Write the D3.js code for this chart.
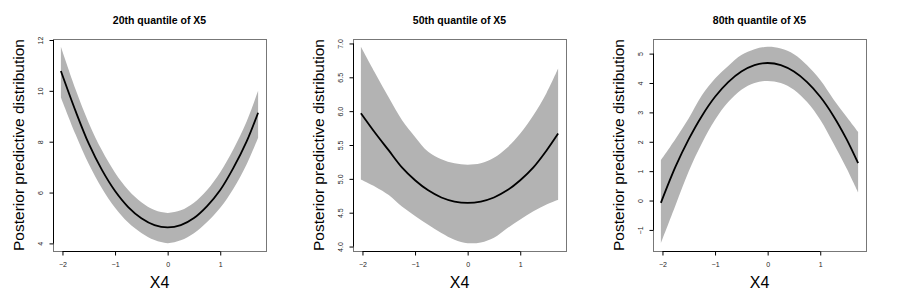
<!DOCTYPE html>
<html>
<head>
<meta charset="utf-8">
<script src="https://cdn.jsdelivr.net/npm/d3@7"></script>
<style>
  body { margin: 0; background: #fff; }
  text { font-family: "Liberation Sans", Arial, Helvetica, sans-serif; }
</style>
</head>
<body>
<script>
// x grid shared by all three panels
const xs = [-2.03, -1.75, -1.5, -1.25, -1, -0.75, -0.5, -0.25, 0, 0.25, 0.5, 0.75, 1, 1.25, 1.5, 1.72];

const titles = ["20th quantile of X5", "50th quantile of X5", "80th quantile of X5"];

// 20th quantile
const mean20  = [10.78, 9.2, 7.92, 6.89, 6.06, 5.43, 4.99, 4.72, 4.63, 4.72, 5.0, 5.47, 6.1, 6.97, 8.0, 9.14];
const upper20 = [11.73, 10.05, 8.74, 7.66, 6.78, 6.1, 5.62, 5.31, 5.2, 5.3, 5.6, 6.1, 6.8, 7.7, 8.78, 10.0];
const lower20 = [9.74, 8.28, 7.12, 6.17, 5.4, 4.82, 4.41, 4.13, 4.01, 4.12, 4.4, 4.84, 5.4, 6.15, 7.1, 8.16];

// 50th quantile
const mean50  = [5.97, 5.67, 5.42, 5.17, 4.98, 4.83, 4.725, 4.665, 4.645, 4.665, 4.725, 4.83, 4.98, 5.17, 5.42, 5.67];
const upper50 = [6.95, 6.55, 6.2, 5.87, 5.62, 5.4, 5.29, 5.23, 5.21, 5.23, 5.31, 5.46, 5.67, 5.94, 6.27, 6.63];
const lower50 = [4.99, 4.88, 4.76, 4.59, 4.45, 4.32, 4.2, 4.1, 4.05, 4.06, 4.13, 4.27, 4.4, 4.52, 4.62, 4.69];

// 80th quantile
const mean80  = [-0.08, 1.16, 2.09, 2.88, 3.53, 4.03, 4.39, 4.61, 4.68, 4.61, 4.39, 4.03, 3.53, 2.88, 2.09, 1.27];
const upper80 = [1.37, 2.1, 2.8, 3.58, 4.15, 4.58, 4.95, 5.15, 5.23, 5.17, 4.98, 4.6, 4.1, 3.45, 2.85, 2.33];
const lower80 = [-1.45, -0.15, 1.0, 1.95, 2.75, 3.35, 3.77, 4.0, 4.07, 4.0, 3.77, 3.35, 2.75, 1.95, 1.1, 0.28];

const xTicks = [-2, -1, 0, 1];
const yTicks = [
  [4, 6, 8, 10, 12],
  [4.0, 4.5, 5.0, 5.5, 6.0, 6.5, 7.0],
  [-1, 0, 1, 2, 3, 4, 5]
];
const yFormats = [d3.format("d"), d3.format(".1f"), d3.format("d")];

const panels = [
  {mean: mean20, upper: upper20, lower: lower20},
  {mean: mean50, upper: upper50, lower: lower50},
  {mean: mean80, upper: upper80, lower: lower80}
];

const W = 900, H = 300, panelW = 300;
const margin = {top: 39, right: 34, bottom: 49, left: 53};
const width = panelW - margin.left - margin.right,
    height = H - margin.top - margin.bottom;

const svg = d3.select("body").append("svg")
    .attr("width", W)
    .attr("height", H);

// R style: pad the data range by 4% on each side
function pad(ext) {
    const r = ext[1] - ext[0];
    return [ext[0] - 0.04 * r, ext[1] + 0.04 * r];
}

panels.forEach(function (p, i) {
    const data = xs.map((x, j) => ({x: x, m: p.mean[j], lo: p.lower[j], hi: p.upper[j]}));

    const x = d3.scaleLinear().domain(pad(d3.extent(xs))).range([0, width]);
    const y = d3.scaleLinear()
        .domain(pad([d3.min(p.lower), d3.max(p.upper)]))
        .range([height, 0]);

    const g = svg.append("g")
        .attr("transform", "translate(" + (i * panelW + margin.left) + "," + margin.top + ")");

    // band
    g.append("path")
        .datum(data)
        .attr("fill", "#b3b3b3")
        .attr("d", d3.area()
            .curve(d3.curveCatmullRom.alpha(0.5))
            .x(d => x(d.x))
            .y0(d => y(d.lo))
            .y1(d => y(d.hi)));

    // mean line
    g.append("path")
        .datum(data)
        .attr("fill", "none")
        .attr("stroke", "#000")
        .attr("stroke-width", 1.8)
        .attr("d", d3.line()
            .curve(d3.curveCatmullRom.alpha(0.5))
            .x(d => x(d.x))
            .y(d => y(d.m)));

    // box
    g.append("rect")
        .attr("x", 0.5).attr("y", 0.5)
        .attr("width", width).attr("height", height)
        .attr("fill", "none")
        .attr("stroke", "#777");

    // x axis
    const xa = g.append("g")
        .attr("transform", "translate(0," + (height + 0.5) + ")")
        .call(d3.axisBottom(x).tickValues(xTicks).tickSize(4).tickPadding(7).tickFormat(d3.format("d")));
    xa.select(".domain").remove();
    xa.append("line")
        .attr("x1", x(xTicks[0])).attr("x2", x(xTicks[xTicks.length - 1]))
        .attr("stroke", "#000");
    xa.selectAll("text").attr("font-size", 7).attr("fill", "#222")
        .style("font-family", "Liberation Sans, Arial, sans-serif");

    // y axis
    const yt = yTicks[i];
    const ya = g.append("g")
        .attr("transform", "translate(0.5,0)")
        .call(d3.axisLeft(y).tickValues(yt).tickSize(4).tickFormat(yFormats[i]));
    ya.select(".domain").remove();
    ya.append("line")
        .attr("y1", y(yt[0])).attr("y2", y(yt[yt.length - 1]))
        .attr("stroke", "#000");
    ya.selectAll(".tick text")
        .attr("x", null).attr("dy", null)
        .attr("text-anchor", "middle")
        .attr("transform", "translate(-11,0) rotate(-90)")
        .attr("font-size", 7).attr("fill", "#222")
        .style("font-family", "Liberation Sans, Arial, sans-serif");

    // title
    g.append("text")
        .attr("x", width / 2).attr("y", -15)
        .attr("text-anchor", "middle")
        .attr("font-size", 10.5)
        .attr("font-weight", "bold")
        .text(titles[i]);

    // axis titles
    g.append("text")
        .attr("x", width / 2).attr("y", height + 37)
        .attr("text-anchor", "middle")
        .attr("font-size", 16)
        .text("X4");

    g.append("text")
        .attr("transform", "translate(-29," + (height / 2) + ") rotate(-90)")
        .attr("text-anchor", "middle")
        .attr("font-size", 15.5)
        .text("Posterior predictive distribution");
});
</script>
</body>
</html>
